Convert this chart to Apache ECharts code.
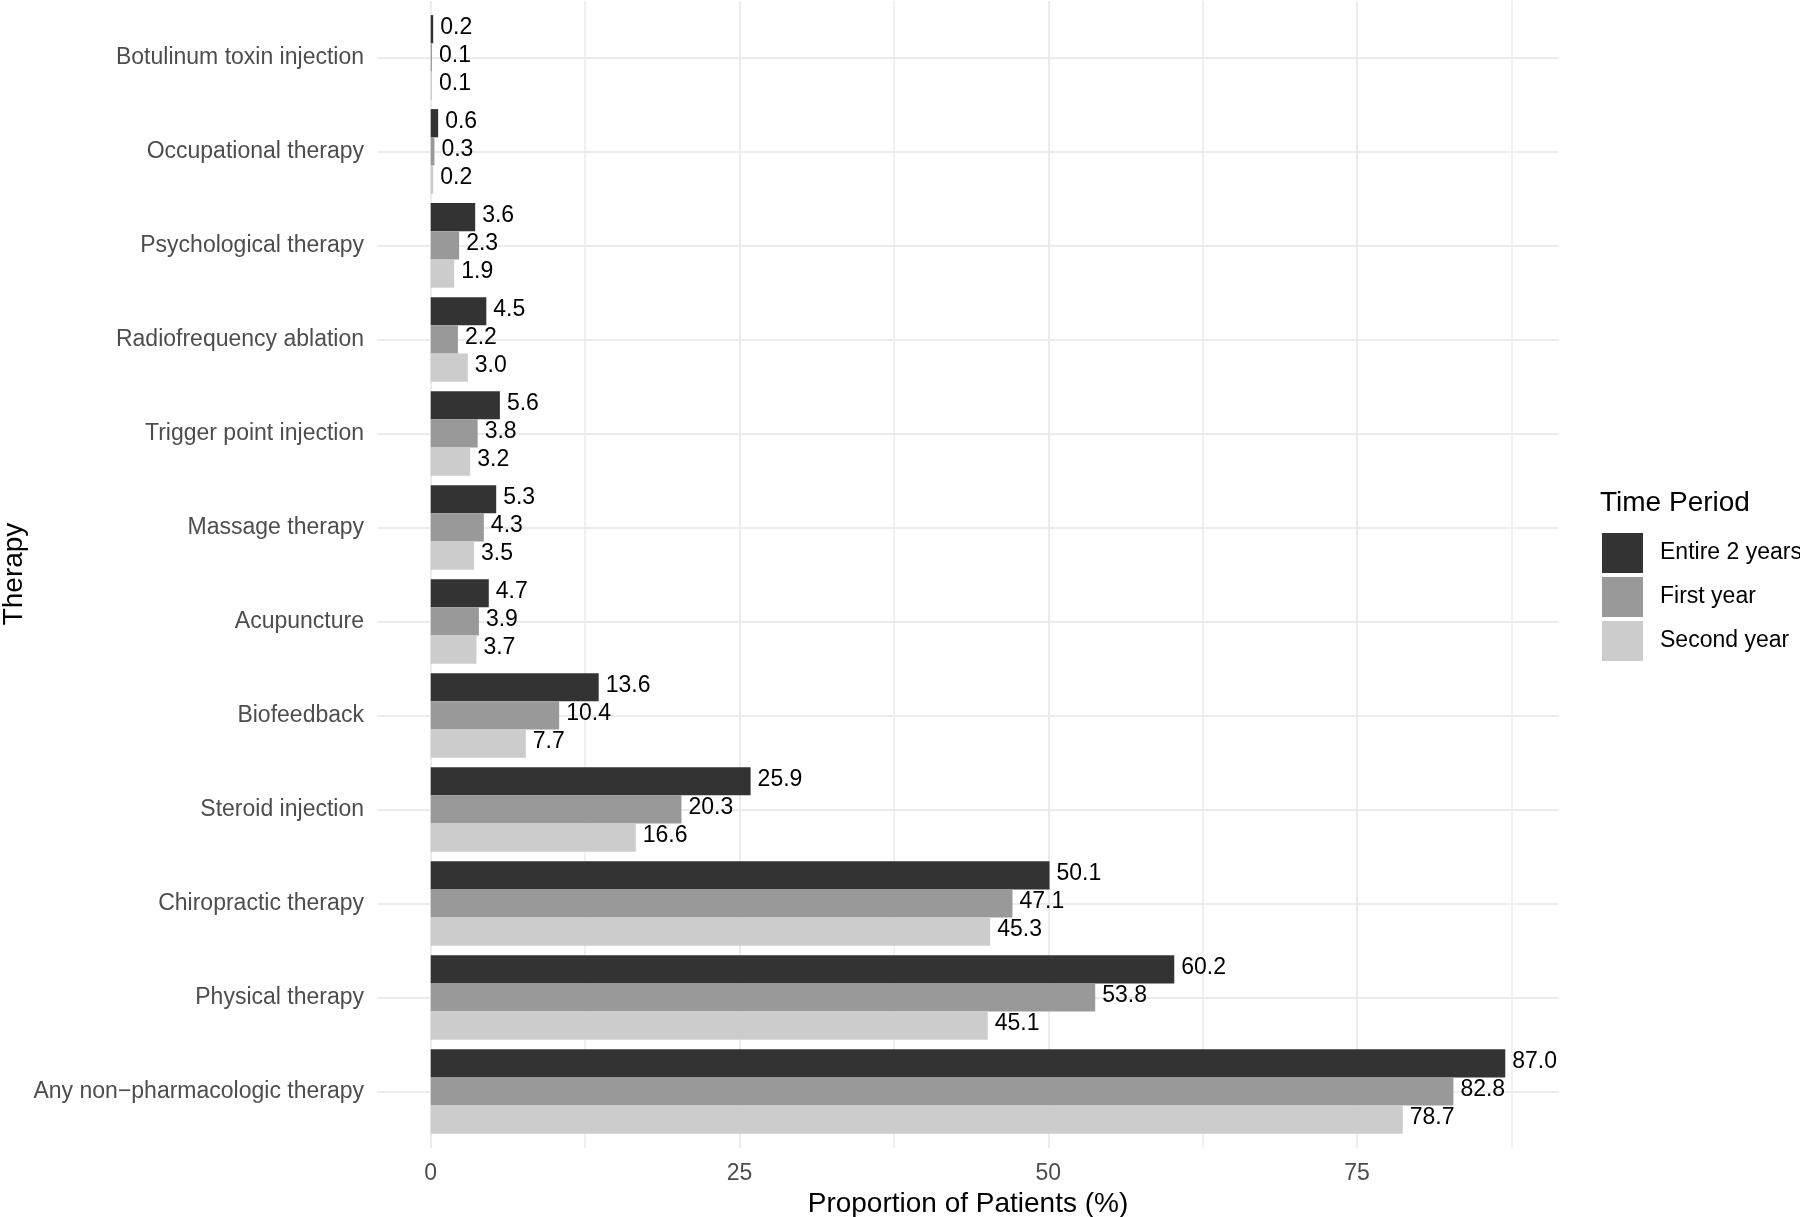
<!DOCTYPE html>
<html>
<head>
<meta charset="utf-8">
<script src="https://cdn.jsdelivr.net/npm/echarts@6/dist/echarts.min.js"></script>
<style>
  html, body { margin: 0; padding: 0; background: #fff; }
  #chart { width: 1800px; height: 1217px; }
</style>
</head>
<body>
<div id="chart"></div>
<script>
// categories, top to bottom
const therapies = [
  'Botulinum toxin injection', 'Occupational therapy', 'Psychological therapy',
  'Radiofrequency ablation', 'Trigger point injection', 'Massage therapy',
  'Acupuncture', 'Biofeedback', 'Steroid injection', 'Chiropractic therapy',
  'Physical therapy', 'Any non\u2212pharmacologic therapy'
]
const periods = ['Entire 2 years', 'First year', 'Second year']
const entire2Years = [0.2, 0.6, 3.6, 4.5, 5.6, 5.3, 4.7, 13.6, 25.9, 50.1, 60.2, 87.0]
const firstYear    = [0.1, 0.3, 2.3, 2.2, 3.8, 4.3, 3.9, 10.4, 20.3, 47.1, 53.8, 82.8]
const secondYear   = [0.1, 0.2, 1.9, 3.0, 3.2, 3.5, 3.7, 7.7, 16.6, 45.3, 45.1, 78.7]
const xTicks = [0, 25, 50, 75]
const xGrid = [0, 12.5, 25, 37.5, 50, 62.5, 75, 87.5]

const FONT = '"Liberation Sans", Arial, sans-serif'
const greys = ['#333333', '#999999', '#cccccc']
const xMin = -4.35, xMax = 91.35

const chart = echarts.init(document.getElementById('chart'))

const barSeries = [entire2Years, firstYear, secondYear].map((vals, i) => ({
  name: periods[i],
  type: 'bar',
  xAxisIndex: 0,
  yAxisIndex: 0,
  data: vals,
  barWidth: '30%',
  barGap: '0%',
  z: 3,
  itemStyle: { color: greys[i] },
  label: {
    show: true,
    position: 'right',
    distance: 7,
    offset: [0, -2],
    color: '#000',
    fontFamily: FONT,
    fontSize: 23,
    formatter: p => p.value.toFixed(1)
  }
}))

chart.setOption({
  animation: false,
  backgroundColor: '#fff',
  title: {
    text: 'Time Period',
    left: 1600,
    top: 489,
    padding: 0,
    textStyle: { fontFamily: FONT, fontSize: 28, fontWeight: 'normal', color: '#000' }
  },
  // y axis title
  graphic: [{
    type: 'text',
    x: 14,
    y: 574,
    rotation: Math.PI / 2,
    style: {
      text: 'Therapy',
      fontFamily: FONT,
      fontSize: 28,
      fill: '#000',
      align: 'center',
      verticalAlign: 'middle'
    }
  }],
  legend: {
    data: periods,
    orient: 'vertical',
    left: 1602,
    top: 533,
    padding: 0,
    itemWidth: 41,
    itemHeight: 40,
    itemGap: 4,
    icon: 'rect',
    textStyle: { fontFamily: FONT, fontSize: 23, color: '#000', padding: [0, 0, 0, 12] }
  },
  grid: [
    { left: 377, right: 241, top: 10.4, bottom: 78.5, outerBoundsMode: 'none' },   // bars
    { left: 377, right: 241, top: 1, bottom: 69, outerBoundsMode: 'none' }         // full panel, for grid lines
  ],
  xAxis: [
    {
      gridIndex: 0, type: 'value', min: xMin, max: xMax,
      axisLabel: { show: false }, axisLine: { show: false },
      axisTick: { show: false }, splitLine: { show: false }
    },
    {
      gridIndex: 1, type: 'value', min: xMin, max: xMax,
      axisLine: { show: false }, axisTick: { show: false }, splitLine: { show: false },
      axisLabel: {
        customValues: xTicks,
        color: '#4d4d4d', fontFamily: FONT, fontSize: 23, margin: 14
      },
      name: 'Proportion of Patients (%)',
      nameLocation: 'middle',
      nameGap: 40,
      nameTextStyle: { fontFamily: FONT, fontSize: 28, color: '#000', verticalAlign: 'top' }
    }
  ],
  yAxis: [
    {
      gridIndex: 0, type: 'category', inverse: true, data: therapies,
      axisLine: { show: false }, axisTick: { show: false }, splitLine: { show: false },
      axisLabel: { color: '#4d4d4d', fontFamily: FONT, fontSize: 23, margin: 13 }
    },
    {
      gridIndex: 1, type: 'value', inverse: true, min: -0.6, max: therapies.length - 0.4,
      show: false
    }
  ],
  series: [
    {
      type: 'line',
      xAxisIndex: 1,
      yAxisIndex: 1,
      data: [],
      z: 0,
      silent: true,
      markLine: {
        z: 0,
        silent: true,
        symbol: 'none',
        label: { show: false },
        animation: false,
        data: [
          ...xGrid.map(v => ({
            xAxis: v,
            lineStyle: { color: '#ebebeb', width: xTicks.includes(v) ? 2 : 1.5, type: 'solid' }
          })),
          ...therapies.map((c, i) => ({
            yAxis: i,
            lineStyle: { color: '#ebebeb', width: 2, type: 'solid' }
          }))
        ]
      }
    },
    ...barSeries
  ]
})
</script>
</body>
</html>
